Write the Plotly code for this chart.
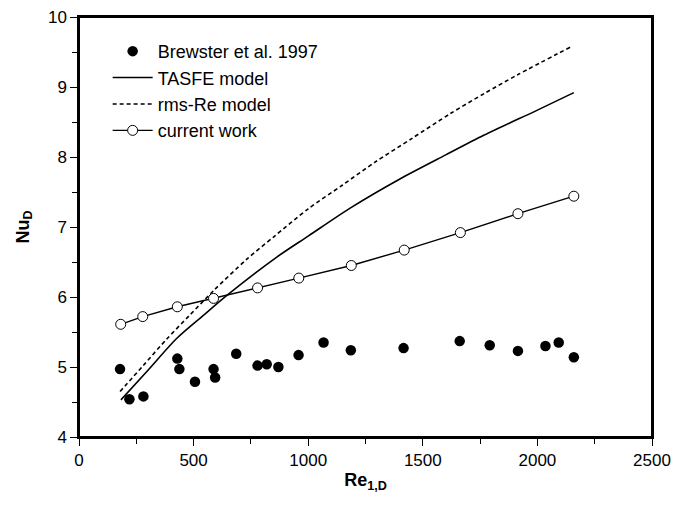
import plotly.graph_objects as go

# Brewster et al. 1997 (filled circles)
brew_re = [179, 220, 281, 429, 438, 506, 587, 594, 686, 779, 819, 870, 958, 1067, 1186,
           1416, 1661, 1792, 1915, 2035, 2093, 2159]
brew_nu = [4.97, 4.54, 4.58, 5.12, 4.97, 4.79, 4.97, 4.85, 5.19, 5.02, 5.04, 5.00, 5.17, 5.35, 5.24,
           5.27, 5.37, 5.31, 5.23, 5.30, 5.35, 5.14]

# TASFE model (solid line)
tasfe_re = [183, 300, 427, 540, 652, 863, 1000, 1183, 1402, 1600, 1766, 2000, 2159]
tasfe_nu = [4.53, 4.95, 5.41, 5.73, 6.04, 6.57, 6.87, 7.27, 7.69, 8.03, 8.31, 8.67, 8.92]

# rms-Re model (dashed line)
rms_re = [179, 280, 383, 480, 587, 732, 850, 1000, 1150, 1293, 1450, 1620, 1770, 1911, 2150]
rms_nu = [4.65, 5.02, 5.40, 5.73, 6.09, 6.54, 6.86, 7.26, 7.60, 7.93, 8.26, 8.62, 8.91, 9.17, 9.58]

# current work (open circles with line)
cur_re = [182, 278, 429, 587, 779, 959, 1188, 1419, 1664, 1915, 2159]
cur_nu = [5.61, 5.72, 5.86, 5.98, 6.13, 6.27, 6.45, 6.67, 6.92, 7.19, 7.44]

x_ticks = [0, 500, 1000, 1500, 2000, 2500]
y_ticks = [4, 5, 6, 7, 8, 9, 10]

font = "Liberation Sans, Arial, sans-serif"

fig = go.Figure()
fig.add_trace(go.Scatter(x=brew_re, y=brew_nu, mode="markers", name="Brewster et al. 1997",
                         marker=dict(symbol="circle", size=10.5, color="black")))
fig.add_trace(go.Scatter(x=tasfe_re, y=tasfe_nu, mode="lines", name="TASFE model",
                         line=dict(color="black", width=1.6, shape="spline", smoothing=0.8)))
fig.add_trace(go.Scatter(x=rms_re, y=rms_nu, mode="lines", name="rms-Re model",
                         line=dict(color="black", width=1.6, dash="4px,3px", shape="spline", smoothing=0.8)))
fig.add_trace(go.Scatter(x=cur_re, y=cur_nu, mode="lines+markers", name="current work",
                         line=dict(color="black", width=1.4),
                         marker=dict(symbol="circle", size=10, color="white",
                                     line=dict(color="black", width=1))))

axis_common = dict(showline=True, linecolor="black", linewidth=1.5, mirror=True,
                   showgrid=False, zeroline=False, ticks="outside", ticklen=7,
                   tickwidth=1.3, tickcolor="black", automargin=False,
                   ticklabeloverflow="allow",
                   tickfont=dict(family=font, size=17, color="black"))

fig.update_xaxes(range=[0, 2500], tickvals=x_ticks, ticktext=[str(v) for v in x_ticks],
                 minor=dict(ticks="outside", ticklen=5, tickwidth=1.3, tickcolor="black", dtick=250),
                 title=dict(text="<b>Re<sub>1,D</sub></b>", font=dict(family=font, size=18, color="black"),
                            standoff=4),
                 **axis_common)
fig.update_yaxes(range=[4, 10], tickvals=y_ticks, ticktext=[str(v) for v in y_ticks],
                 minor=dict(ticks="outside", ticklen=5, tickwidth=1.3, tickcolor="black", dtick=0.5),
                 title=dict(text="<b>Nu<sub>D</sub></b>", font=dict(family=font, size=18, color="black"),
                            standoff=14),
                 **axis_common)

# frame around the plotting area
fig.add_shape(type="rect", xref="paper", yref="paper", x0=0, x1=1, y0=0, y1=1,
              line=dict(color="black", width=2), fillcolor="rgba(0,0,0,0)", layer="above")

fig.update_layout(
    width=671, height=492,
    margin=dict(l=71, r=27, t=9, b=63),
    paper_bgcolor="white", plot_bgcolor="white",
    showlegend=True,
    legend=dict(x=0.05, y=0.962, xanchor="left", yanchor="top",
                bgcolor="rgba(0,0,0,0)", font=dict(family=font, size=18, color="black"),
                tracegroupgap=0, itemwidth=40),
)

fig.write_html("out.html", config={"displayModeBar": False})
